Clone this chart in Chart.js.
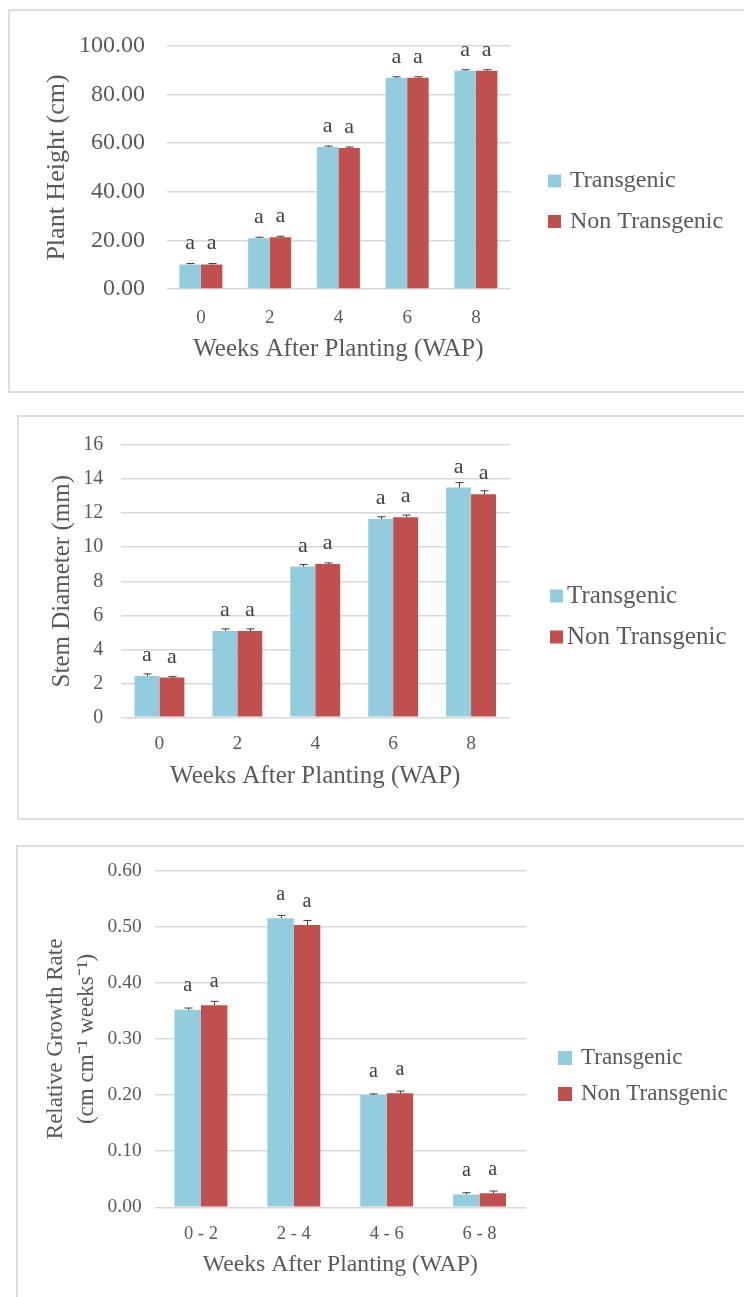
<!DOCTYPE html>
<html>
<head>
<meta charset="utf-8">
<script src="https://cdn.jsdelivr.net/npm/chart.js@4.4.0/dist/chart.umd.min.js"></script>
<style>
body { margin: 0; background: #fff; width: 744px; height: 1297px; overflow: hidden; position: relative; }
.frame { position: absolute; box-sizing: border-box; border: 2px solid #dedede; width: 800px; }
.box { position: absolute; left: 0; width: 744px; }
</style>
</head>
<body>
<div class="frame" style="left:8px;top:9px;height:384px"></div>
<div class="frame" style="left:17px;top:415px;height:405px"></div>
<div class="frame" style="left:16px;top:845px;height:500px"></div>
<div class="box" style="top:10px;height:382px"><canvas id="heightChart" width="744" height="382"></canvas></div>
<div class="box" style="top:416px;height:402px"><canvas id="stemChart" width="744" height="402"></canvas></div>
<div class="box" style="top:846px;height:451px"><canvas id="rgrChart" width="744" height="451"></canvas></div>
<script>
// categories
var weeks = ['0', '2', '4', '6', '8'];
var periods = ['0 - 2', '2 - 4', '4 - 6', '6 - 8'];
var seriesNames = ['Transgenic', 'Non Transgenic'];

// plant height (cm)
var heightTrans = [10.1, 20.9, 58.4, 86.9, 89.8];
var heightNon = [10.1, 21.3, 58.0, 86.9, 89.8];
var heightErrTrans = [0.4, 0.4, 0.4, 0.4, 0.4];
var heightErrNon = [0.4, 0.4, 0.4, 0.4, 0.4];
var heightTicks = [0, 20, 40, 60, 80, 100];

// stem diameter (mm)
var stemTrans = [2.43, 5.08, 8.86, 11.66, 13.51];
var stemNon = [2.34, 5.08, 9.02, 11.76, 13.11];
var stemErrTrans = [0.12, 0.12, 0.12, 0.13, 0.29];
var stemErrNon = [0.05, 0.12, 0.06, 0.13, 0.21];
var stemTicks = [0, 2, 4, 6, 8, 10, 12, 14, 16];

// relative growth rate
var rgrTrans = [0.352, 0.515, 0.200, 0.023];
var rgrNon = [0.360, 0.503, 0.203, 0.025];
var rgrErrTrans = [0.003, 0.005, 0.002, 0.003];
var rgrErrNon = [0.007, 0.008, 0.004, 0.004];
var rgrTicks = [0, 0.1, 0.2, 0.3, 0.4, 0.5, 0.6];

// significance letters
var letters5 = ['a', 'a', 'a', 'a', 'a'];
var letters4 = ['a', 'a', 'a', 'a'];

var blue = '#93CDDD';
var red = '#C0504D';
var serif = "'Liberation Serif', 'Times New Roman', serif";

Chart.defaults.font.family = serif;
Chart.defaults.color = '#595959';

// error bars, letters and the legend
var extras = {
  id: 'extras',
  afterDatasetsDraw: function(chart, args, opts) {
    var ctx = chart.ctx;
    var y = chart.scales.y;
    ctx.save();
    chart.data.datasets.forEach(function(ds, d) {
      var meta = chart.getDatasetMeta(d);
      meta.data.forEach(function(bar, i) {
        var top = y.getPixelForValue(ds.data[i]);
        var end = y.getPixelForValue(ds.data[i] + ds.errors[i]);
        var x = Math.round(bar.x) + 0.5;
        ctx.strokeStyle = '#3c3c3c';
        ctx.lineWidth = 1;
        ctx.beginPath();
        ctx.moveTo(x, top);
        ctx.lineTo(x, end);
        ctx.moveTo(x - 4, end);
        ctx.lineTo(x + 4, end);
        ctx.stroke();
        ctx.fillStyle = '#404040';
        ctx.font = opts.letterSize + 'px ' + serif;
        ctx.textAlign = 'center';
        ctx.textBaseline = 'alphabetic';
        ctx.fillText(ds.letters[i], bar.x, top - opts.letterGap);
      });
    });
    var lg = opts.legend;
    chart.data.datasets.forEach(function(ds, d) {
      var cy = lg.rows[d];
      ctx.fillStyle = ds.backgroundColor;
      ctx.fillRect(lg.x, cy - lg.box / 2, lg.box, lg.box);
      ctx.fillStyle = '#595959';
      ctx.font = lg.size + 'px ' + serif;
      ctx.textAlign = 'left';
      ctx.textBaseline = 'middle';
      ctx.fillText(ds.label, lg.textX, cy);
    });
    ctx.restore();
  }
};

function makeChart(id, labels, trans, non, errT, errN, letters, ticks, s) {
  return new Chart(document.getElementById(id), {
    type: 'bar',
    data: {
      labels: labels,
      datasets: [
        { label: seriesNames[0], data: trans, errors: errT, letters: letters, backgroundColor: blue },
        { label: seriesNames[1], data: non, errors: errN, letters: letters, backgroundColor: red }
      ]
    },
    options: {
      responsive: false,
      animation: false,
      devicePixelRatio: 1,
      layout: { padding: { left: 0, top: s.top, right: s.right, bottom: 0 } },
      datasets: { bar: { categoryPercentage: s.cat, barPercentage: 1 } },
      plugins: {
        legend: { display: false },
        tooltip: { enabled: false },
        extras: { letterSize: s.letterSize, letterGap: s.letterGap, legend: s.legend }
      },
      scales: {
        x: {
          grid: { display: false, drawTicks: false },
          border: { display: false },
          ticks: { font: { size: s.xTick }, padding: s.xTickPad, color: '#595959' },
          title: { display: true, text: 'Weeks After Planting (WAP)', font: { size: s.xTitle, lineHeight: 1.2 }, padding: { top: 0, bottom: s.xTitlePad }, color: '#595959' },
          afterFit: function(sc) { sc.height = s.xHeight; }
        },
        y: {
          min: ticks[0],
          max: ticks[ticks.length - 1],
          afterBuildTicks: function(sc) { sc.ticks = ticks.map(function(v) { return { value: v }; }); },
          grid: { color: '#d9d9d9', lineWidth: 1.5, drawTicks: false },
          border: { display: false },
          ticks: {
            font: { size: s.yTick },
            padding: s.yTickPad,
            color: '#595959',
            callback: function(v) { return s.decimals ? Number(v).toFixed(s.decimals) : String(v); }
          },
          title: { display: true, text: s.yTitle, font: { size: s.yTitleSize, lineHeight: s.yTitleLh }, padding: { top: s.yTitlePad, bottom: 0 }, color: '#595959' },
          afterFit: function(sc) { sc.width = s.left; }
        }
      }
    },
    plugins: [extras]
  });
}

makeChart('heightChart', weeks, heightTrans, heightNon, heightErrTrans, heightErrNon, letters5, heightTicks, {
  top: 25, right: 233.7, left: 166.5, xHeight: 103, cat: 0.625,
  xTick: 19, xTickPad: 17.5, xTitle: 25, xTitlePad: 28,
  yTick: 24, yTickPad: 21.5, decimals: 2,
  yTitle: 'Plant Height (cm)', yTitleSize: 26, yTitleLh: 1.2, yTitlePad: 41.4,
  letterSize: 22, letterGap: 15,
  legend: { x: 548, textX: 570, box: 13, rows: [171, 211.5], size: 24 }
});

makeChart('stemChart', weeks, stemTrans, stemNon, stemErrTrans, stemErrNon, letters5, stemTicks, {
  top: 25.7, right: 234, left: 120.5, xHeight: 100.7, cat: 0.64,
  xTick: 19.5, xTickPad: 15, xTitle: 25, xTitlePad: 26.3,
  yTick: 20, yTickPad: 17.2, decimals: 0,
  yTitle: 'Stem Diameter (mm)', yTitleSize: 25, yTitleLh: 1.2, yTitlePad: 47.5,
  letterSize: 22, letterGap: 15,
  legend: { x: 550, textX: 567, box: 13, rows: [180, 221], size: 25 }
});

makeChart('rgrChart', periods, rgrTrans, rgrNon, rgrErrTrans, rgrErrNon, letters4, rgrTicks, {
  top: 24, right: 218, left: 154.5, xHeight: 89.7, cat: 0.57,
  xTick: 18.5, xTickPad: 15.5, xTitle: 23.7, xTitlePad: 17.8,
  yTick: 19.5, yTickPad: 12.8, decimals: 2,
  yTitle: ['Relative Growth Rate', '(cm cm\u207B\u00B9 weeks\u207B\u00B9)'], yTitleSize: 23, yTitleLh: 1.35, yTitlePad: 40,
  letterSize: 20, letterGap: 18.4,
  legend: { x: 558, textX: 581, box: 14, rows: [212, 248], size: 23 }
});
</script>
</body>
</html>
